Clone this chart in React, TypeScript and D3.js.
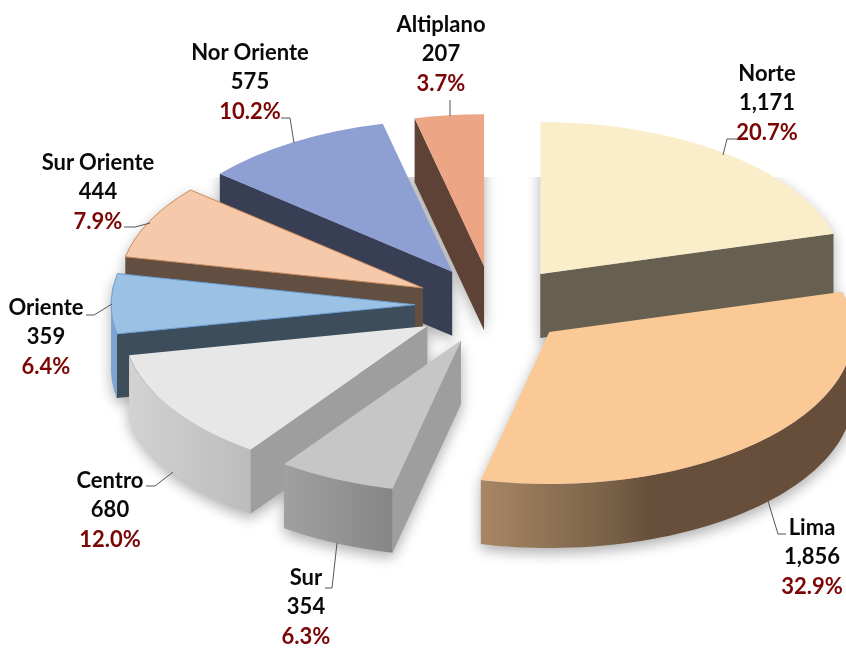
import React from 'react'
import * as d3 from 'd3'

const regions = ['Norte', 'Lima', 'Sur', 'Centro', 'Oriente', 'Sur Oriente', 'Nor Oriente', 'Altiplano']
const counts = [1171, 1856, 354, 680, 359, 444, 575, 207]
const shares = [20.7, 32.9, 6.3, 12.0, 6.4, 7.9, 10.2, 3.7]

const topColors = ['#faeeca', '#fbc996', '#c6c6c6', '#e7e7e7', '#9bc1e4', '#f5c9a9', '#8d9fd3', '#eca585']
const sideColors = ['#676050', '#674f3b', '#9e9e9e', '#9e9e9e', '#3e4d5c', '#624f41', '#383f54', '#5f4236']
const edgeColors = ['none', 'none', 'none', 'none', '#6a9fd4', '#c98a5c', 'none', 'none']
const rimStops: Record<string, [number, string][]> = {
  Lima: [[480, '#a88765'], [615, '#765f46'], [650, '#674f3b'], [846, '#664e3a']],
  Sur: [[285, '#a0a0a0'], [393, '#868686']],
  Centro: [[130, '#d2d2d2'], [251, '#bcbcbc']],
  Oriente: [[113, '#7ba5d5'], [120, '#7ba5d5']],
}

// back to front
const drawOrder = ['Norte', 'Altiplano', 'Nor Oriente', 'Sur Oriente', 'Oriente', 'Centro', 'Sur', 'Lima']

const labelX = [767, 812, 306, 110, 46, 98, 250, 441]
const labelY = [81, 535, 585, 488, 315, 170, 60, 32]
const leaders = [
  [[723, 155], [727, 139], [737, 139]],
  [[768, 501], [778, 534], [786, 534]],
  [[337, 543], [332, 588], [325, 588]],
  [[173, 472], [155, 486], [146, 486]],
  [[112, 304], [94, 315], [86, 315]],
  [[150, 223], [135, 227], [124, 227]],
  [[294, 143], [290, 118], [281, 118]],
  [[450, 116], [450, 100]],
]

const width = 846
const height = 648
const cx = 493
const cy = 305
const radius = 304
const tilt = 0.5
const depth = 64
const explode = 78

const pie = d3.pie<number>().sort(null).value((d) => d)
const arcTop = d3.arc<d3.PieArcDatum<number>>().innerRadius(0).outerRadius(radius)
const fmt = d3.format(',')
const pct = d3.format('.1f')
const leaderLine = d3.line()

const px = (a: number, r: number) => r * Math.sin(a)
const py = (a: number, r: number) => -tilt * r * Math.cos(a)

const App = () => {
  const slices = pie(counts).map((s, i) => {
    const mid = (s.startAngle + s.endAngle) / 2
    const ax = cx + px(mid, explode)
    const ay = cy + py(mid, explode)
    const a0 = Math.max(s.startAngle, Math.PI / 2)
    const a1 = Math.min(s.endAngle, (3 * Math.PI) / 2)
    const rim =
      a1 > a0
        ? d3
            .area<number>()
            .x((t) => ax + px(t, radius))
            .y0((t) => ay + py(t, radius))
            .y1((t) => ay + py(t, radius) + depth)(d3.range(0, 61).map((k) => a0 + ((a1 - a0) * k) / 60))
        : null
    const face = (a: number) =>
      d3.line().curve(d3.curveLinearClosed)([
        [ax, ay],
        [ax + px(a, radius), ay + py(a, radius)],
        [ax + px(a, radius), ay + py(a, radius) + depth],
        [ax, ay + depth],
      ])
    const faces: string[] = []
    if (Math.sin(s.startAngle) < 0) faces.push(face(s.startAngle) as string)
    if (Math.sin(s.endAngle) > 1e-9) faces.push(face(s.endAngle) as string)
    return { name: regions[i], i, ax, ay, rim, faces, top: arcTop(s) as string }
  })
  const ordered = drawOrder.map((n) => slices.find((s) => s.name === n)!)

  const renderTop = (s: (typeof slices)[number], fill: string, stroke: string) => (
    <path
      d={s.top}
      transform={`translate(${s.ax},${s.ay}) scale(1,${tilt})`}
      fill={fill}
      stroke={stroke}
      strokeWidth={1}
      vectorEffect="non-scaling-stroke"
    />
  )

  return (
    <svg width={width} height={height} style={{ position: 'absolute', left: 0, top: 0, background: '#fff' }}>
      <defs>
        <filter id="soft" x="-30%" y="-30%" width="160%" height="160%">
          <feGaussianBlur stdDeviation="7" />
        </filter>
        <clipPath id="plotClip">
          <rect x={0} y={177} width={width} height={height - 177} />
        </clipPath>
        {Object.entries(rimStops).map(([name, stops]) => (
          <linearGradient
            key={name}
            id={`rim-${name}`}
            gradientUnits="userSpaceOnUse"
            x1={stops[0][0]}
            x2={stops[stops.length - 1][0]}
            y1={0}
            y2={0}
          >
            {stops.map(([x, c]) => (
              <stop
                key={x}
                offset={(x - stops[0][0]) / (stops[stops.length - 1][0] - stops[0][0])}
                stopColor={c}
              />
            ))}
          </linearGradient>
        ))}
      </defs>

      <g clipPath="url(#plotClip)">
        <g filter="url(#soft)" opacity={0.32} transform="translate(0,5)">
          {ordered.map((s) => (
            <g key={s.name}>
              {s.faces.map((d, k) => (
                <path key={k} d={d} fill="#000" />
              ))}
              {s.rim && <path d={s.rim} fill="#000" />}
              {renderTop(s, '#000', 'none')}
            </g>
          ))}
        </g>
      </g>

      {ordered.map((s) => (
        <g key={s.name}>
          {s.faces.map((d, k) => (
            <path key={k} d={d} fill={sideColors[s.i]} />
          ))}
          {s.rim && <path d={s.rim} fill={rimStops[s.name] ? `url(#rim-${s.name})` : sideColors[s.i]} />}
          {renderTop(s, topColors[s.i], edgeColors[s.i])}
        </g>
      ))}

      {leaders.map((pts, i) => (
        <path key={i} d={leaderLine(pts as [number, number][]) as string} fill="none" stroke="#555" strokeWidth={1} />
      ))}

      {regions.map((name, i) => (
        <text
          key={name}
          x={labelX[i]}
          y={labelY[i]}
          textAnchor="middle"
          fontFamily="Lato, sans-serif"
          fontWeight={700}
          fontSize={22}
          fill="#0a0a0a"
        >
          <tspan x={labelX[i]}>{name}</tspan>
          <tspan x={labelX[i]} dy={29.3}>
            {fmt(counts[i])}
          </tspan>
          <tspan x={labelX[i]} dy={29.3} fill="#7b0505">
            {pct(shares[i])}%
          </tspan>
        </text>
      ))}
    </svg>
  )
}

export default App
